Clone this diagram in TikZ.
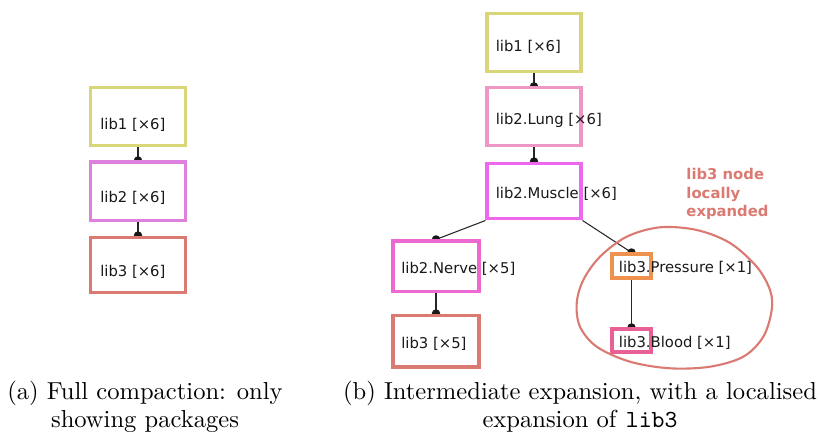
\documentclass[tikz,border=0pt]{standalone}
\usepackage{fontspec}
\newfontfamily\dvs{DejaVu Sans}
\usetikzlibrary{backgrounds}
\definecolor{cyel}{HTML}{D8D678}
\definecolor{corch}{HTML}{DE80DE}
\definecolor{csal}{HTML}{DA7A72}
\definecolor{clung}{HTML}{EE96C4}
\definecolor{cmus}{HTML}{EE68EE}
\definecolor{cner}{HTML}{EE68D2}
\definecolor{cpre}{HTML}{EE9250}
\definecolor{cblo}{HTML}{E86096}
\tikzset{
  x=0.4255pt, y=-0.4255pt,
  pkg/.style={draw=#1, line width=1.3pt, fill=white, rectangle, inner sep=0pt},
  lbl/.style={font=\dvs\fontsize{6.3}{7.5}\selectfont, inner sep=0pt, anchor=west, text=black!90},
  dep/.style={line width=0.45pt, draw=black!85},
  captext/.style={align=center, font=\fontsize{10.45}{11.9}\selectfont, inner sep=0pt},
}
\newcommand{\depdot}[1]{\fill[black!90] (#1) circle[radius=1.8pt];}
\begin{document}
\begin{tikzpicture}
\useasboundingbox (0,0) rectangle (820,434);
% left diagram
\node[pkg=cyel,  minimum width=40.8pt, minimum height=24.3pt] (a1) at (138,116.5) {};
\node[pkg=corch, minimum width=40.8pt, minimum height=24.7pt] (a2) at (138,191) {};
\node[pkg=csal,  minimum width=40.8pt, minimum height=23.8pt] (a3) at (138,265) {};
\node[lbl] (ta1) at ([xshift=4.8pt,yshift=-3.6pt]a1.west) {lib1 [×6]};
\node[lbl] (ta2) at ([xshift=4.8pt,yshift=-3.0pt]a2.west) {lib2 [×6]};
\node[lbl] (ta3) at ([xshift=4.8pt,yshift=-2.9pt]a3.west) {lib3 [×6]};
% right diagram
\node[pkg=cyel,  minimum width=40pt, minimum height=24.3pt] (b1) at (534,42.5) {};
\node[pkg=clung, minimum width=40pt, minimum height=24.3pt] (b2) at (534,116.5) {};
\node[pkg=cmus,  minimum width=40pt, minimum height=23.8pt] (b3) at (534,191) {};
\node[pkg=cner,  minimum width=36.6pt, minimum height=21.3pt] (b4) at (436,266) {};
\node[pkg=csal,  minimum width=36.6pt, minimum height=22.1pt] (b5) at (436,341) {};
\node[pkg=cpre,  minimum width=16.6pt, minimum height=10.2pt] (b6) at (631.5,266) {};
\node[pkg=cblo,  minimum width=16.6pt, minimum height=9.8pt] (b7) at (631.5,340.5) {};
\node[lbl] (tb1) at ([xshift=4.2pt,yshift=-2.0pt]b1.west) {lib1 [×6]};
\node[lbl] (tb2) at ([xshift=4.2pt,yshift=-1.6pt]b2.west) {lib2.Lung [×6]};
\node[lbl] (tb3) at ([xshift=4.2pt,yshift=-1.4pt]b3.west) {lib2.Muscle [×6]};
\node[lbl] (tb4) at ([xshift=4.0pt,yshift=-1.2pt]b4.west) {lib2.Nerve [×5]};
\node[lbl] (tb5) at ([xshift=4.0pt,yshift=-1.2pt]b5.west) {lib3 [×5]};
\node[lbl] (tb6) at ([xshift=3.4pt,yshift=-0.8pt]b6.west) {lib3.Pressure [×1]};
\node[lbl] (tb7) at ([xshift=3.4pt,yshift=-0.8pt]b7.west) {lib3.Blood [×1]};
% edges
\begin{scope}[on background layer]
\draw[dep] (a1.south) -- (a2.north); \depdot{a2.north}
\draw[dep] (a2.south) -- (a3.north); \depdot{a3.north}
\draw[dep] (b1.south) -- (b2.north); \depdot{b2.north}
\draw[dep] (b2.south) -- (b3.north); \depdot{b3.north}
\draw[dep] (b3.south west) -- (b4.north); \depdot{b4.north}
\draw[dep] (b4.south) -- (b5.north); \depdot{b5.north}
\draw[dep] (b3.south east) -- (b6.north); \depdot{b6.north}
\draw[dep] (b6.south) -- (b7.north); \depdot{b7.north}
\end{scope}
% local expansion blob
\draw[csal, line width=0.9pt] plot[smooth cycle, tension=0.55] coordinates {(660,227.3) (696.7,230) (730,243) (756.7,266.7) (770,290) (771.7,310) (763.3,336.7) (743.3,356.7) (710,366.7) (670,368.3) (630,361.7) (596.7,346.7) (580,326.7) (576.7,303.3) (583.3,280) (600,256.7) (626.7,236.7)};
\node[font=\dvs\bfseries\fontsize{6.3}{7.9}\selectfont, text=csal, align=left, anchor=north west, inner sep=0pt] (note) at (686,168) {lib3 node\\locally\\expanded};
% captions
\node[captext] (capa) at (145,407) {(a) Full compaction: only\\showing packages};
\node[captext] (capb) at (580,407) {(b) Intermediate expansion, with a localised\\expansion of \texttt{lib3}};
\end{tikzpicture}
\end{document}
